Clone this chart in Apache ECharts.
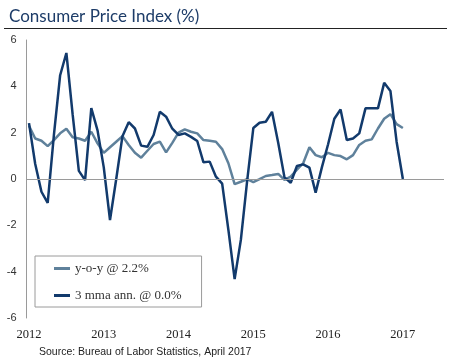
<!DOCTYPE html>
<html>
<head>
<meta charset="utf-8">
<script src="https://cdn.jsdelivr.net/npm/echarts@6/dist/echarts.min.js"></script>
<style>
html,body{margin:0;padding:0;background:#fff;}
#chart{width:450px;height:364px;}
</style>
</head>
<body>
<div id="chart"></div>
<script>
// Monthly observations, Apr 2012 .. Apr 2017
const months = [
 'Apr 2012','May 2012','Jun 2012','Jul 2012','Aug 2012','Sep 2012','Oct 2012','Nov 2012','Dec 2012',
 'Jan 2013','Feb 2013','Mar 2013','Apr 2013','May 2013','Jun 2013','Jul 2013','Aug 2013','Sep 2013','Oct 2013','Nov 2013','Dec 2013',
 'Jan 2014','Feb 2014','Mar 2014','Apr 2014','May 2014','Jun 2014','Jul 2014','Aug 2014','Sep 2014','Oct 2014','Nov 2014','Dec 2014',
 'Jan 2015','Feb 2015','Mar 2015','Apr 2015','May 2015','Jun 2015','Jul 2015','Aug 2015','Sep 2015','Oct 2015','Nov 2015','Dec 2015',
 'Jan 2016','Feb 2016','Mar 2016','Apr 2016','May 2016','Jun 2016','Jul 2016','Aug 2016','Sep 2016','Oct 2016','Nov 2016','Dec 2016',
 'Jan 2017','Feb 2017','Mar 2017','Apr 2017'
];
const yoy = [
 2.3, 1.75, 1.65, 1.42, 1.68, 1.97, 2.17, 1.8, 1.75,
 1.65, 2.04, 1.54, 1.13, 1.37, 1.61, 1.85, 1.47, 1.13, 0.92, 1.22, 1.51,
 1.61, 1.15, 1.56, 2.0, 2.14, 2.04, 1.97, 1.68, 1.65, 1.61, 1.29, 0.68,
 -0.22, -0.12, -0.01, -0.14, -0.01, 0.13, 0.17, 0.22, -0.04, 0.1, 0.4, 0.68,
 1.37, 1.03, 0.94, 1.13, 1.03, 0.99, 0.85, 1.03, 1.47, 1.65, 1.71, 2.18,
 2.6, 2.8, 2.37, 2.2
];
const mma3 = [
 2.41, 0.65, -0.55, -1.03, 1.9, 4.48, 5.44, 2.8, 0.35,
 -0.05, 3.06, 2.1, 0.5, -1.77, 0.0, 1.85, 2.45, 2.18, 1.44, 1.39, 1.9,
 2.9, 2.69, 2.17, 1.9, 1.97, 1.82, 1.64, 0.72, 0.75, 0.1, -0.2, -2.2,
 -4.32, -2.63, -0.1, 2.2, 2.43, 2.47, 2.9, 1.55, 0.07, -0.16, 0.56, 0.63,
 0.49, -0.59, 0.5, 1.5, 2.6, 3.0, 1.68, 1.75, 1.97, 3.05, 3.05, 3.05,
 4.15, 3.8, 1.6, 0.0
];
const yearLabels = ['2012','2013','2014','2015','2016','2017'];
const yearPositions = [0, 12, 24, 36, 48, 60]; // month index of each year label
const yTicks = [-6, -4, -2, 0, 2, 4, 6];
const seriesNames = ['y-o-y @ 2.2%', '3 mma ann. @ 0.0%'];

const chart = echarts.init(document.getElementById('chart'), null, {renderer: 'canvas'});
const toPairs = arr => arr.map((v, i) => [i, v, months[i]]);

chart.setOption({
  animation: false,
  backgroundColor: '#ffffff',
  title: {
    text: 'Consumer Price Index (%)',
    left: 4, top: 3,
    textStyle: {fontFamily: 'Lato', fontWeight: 'normal', fontSize: 17, color: '#1d3c68'}
  },
  graphic: [
    {type: 'line', shape: {x1: 4, y1: 28.5, x2: 447, y2: 28.5}, style: {stroke: '#222', lineWidth: 1}},
    {type: 'text', left: 39, top: 347,
     style: {text: 'Source: Bureau of Labor Statistics, April 2017', font: '10.5px "Liberation Sans", Arial', fill: '#222'}}
  ],
  grid: {left: 26.5, right: 6, top: 40, bottom: 46},
  legend: {
    orient: 'vertical',
    left: 35, top: 256,
    padding: [6, 20, 5, 19],
    backgroundColor: '#fff',
    borderColor: '#9a9a9a', borderWidth: 1,
    itemGap: 14,
    itemWidth: 16, itemHeight: 3,
    icon: 'rect',
    textStyle: {fontFamily: '"Liberation Serif", "Times New Roman", serif', fontSize: 13, color: '#333'},
    data: seriesNames
  },
  xAxis: {
    type: 'value',
    min: -0.4, max: 66.6,
    axisLine: {show: false},
    axisTick: {show: false},
    splitLine: {show: false},
    axisLabel: {
      margin: 10,
      customValues: yearPositions,
      fontFamily: '"Liberation Serif", "Times New Roman", serif', fontSize: 12.5, color: '#222',
      formatter: v => yearLabels[yearPositions.indexOf(Math.round(v))] || ''
    }
  },
  yAxis: {
    type: 'value',
    min: yTicks[0], max: yTicks[yTicks.length - 1], interval: 2,
    axisLine: {show: true, onZero: false, lineStyle: {color: '#9a9a9a', width: 1}},
    axisTick: {show: false},
    splitLine: {show: false},
    axisLabel: {margin: 10, fontFamily: '"Liberation Sans", Arial', fontSize: 11, color: '#333'}
  },
  series: [
    {
      name: seriesNames[0], type: 'line', data: toPairs(yoy),
      showSymbol: false, symbol: 'none',
      lineStyle: {color: '#5f819b', width: 2.5}, itemStyle: {color: '#5f819b'},
      markLine: {
        silent: true, symbol: 'none', label: {show: false},
        lineStyle: {color: '#9a9a9a', width: 1, type: 'solid'},
        data: [{yAxis: 0}]
      },
      z: 2
    },
    {
      name: seriesNames[1], type: 'line', data: toPairs(mma3),
      showSymbol: false, symbol: 'none',
      lineStyle: {color: '#123a6c', width: 2.5}, itemStyle: {color: '#123a6c'},
      z: 3
    }
  ]
});
</script>
</body>
</html>
